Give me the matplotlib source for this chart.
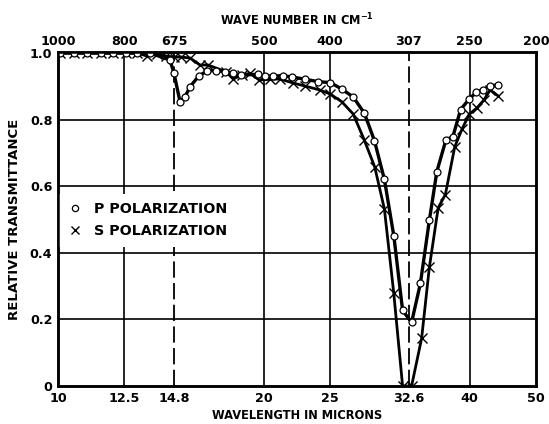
import matplotlib
matplotlib.use("Agg")
import matplotlib.pyplot as plt
from matplotlib.ticker import NullLocator, FixedLocator, FixedFormatter
from matplotlib.lines import Line2D

# wavelength (microns) and relative transmittance
p_wl = [10.07, 10.55, 11.03, 11.56, 12.03, 12.57, 13.05, 13.63, 14.58, 14.78,
        15.08, 15.34, 15.60, 16.07, 16.54, 17.05, 17.57, 18.05, 18.55, 19.58,
        20.07, 20.66, 21.32, 22.01, 23.00, 24.03, 25.03, 25.99, 27.02, 28.06,
        29.02, 30.01, 30.99, 31.91, 32.89, 33.88, 34.92, 35.81, 36.92, 37.80,
        38.79, 39.93, 40.90, 41.89, 42.88, 43.94]
p_tr = [1.0, 1.0, 1.0, 1.0, 1.0, 1.0, 1.0, 1.0, 0.979, 0.939,
        0.854, 0.869, 0.899, 0.931, 0.947, 0.947, 0.944, 0.939, 0.934, 0.936,
        0.931, 0.931, 0.932, 0.928, 0.921, 0.914, 0.911, 0.892, 0.868, 0.819,
        0.737, 0.621, 0.449, 0.227, 0.191, 0.308, 0.498, 0.644, 0.739, 0.749,
        0.830, 0.862, 0.882, 0.890, 0.902, 0.904]

s_wl = [10.07, 10.55, 11.03, 11.56, 12.03, 12.57, 13.05, 13.49, 13.95, 14.38,
        14.78, 15.13, 15.60, 16.13, 16.57, 17.60, 18.04, 18.56, 19.09, 19.69,
        20.42, 21.11, 22.07, 22.96, 24.15, 25.00, 25.99, 27.02, 28.03, 29.05,
        30.01, 30.97, 31.91, 32.89, 34.02, 34.92, 35.97, 36.85, 38.04, 38.99,
        39.93, 40.98, 41.96, 42.84, 44.03]
s_tr = [1.0, 1.0, 1.0, 1.0, 1.0, 1.0, 1.0, 0.991, 0.997, 0.991,
        0.988, 0.988, 0.985, 0.964, 0.964, 0.944, 0.922, 0.934, 0.939, 0.919,
        0.921, 0.922, 0.910, 0.901, 0.889, 0.877, 0.854, 0.817, 0.740, 0.658,
        0.532, 0.280, 0.0, 0.0, 0.143, 0.357, 0.535, 0.575, 0.719, 0.772,
        0.816, 0.835, 0.859, 0.889, 0.871]

wl_ticks = [10, 12.5, 14.8, 20, 25, 32.6, 40, 50]
wl_labels = ["10", "12.5", "14.8", "20", "25", "32.6", "40", "50"]
wn_ticks = [1000, 800, 675, 500, 400, 307, 250, 200]
solid_lines = [12.5, 20, 25, 40]
dashed_lines = [14.8, 32.6]
y_ticks = [0, 0.2, 0.4, 0.6, 0.8, 1.0]
y_labels = ["0", "0.2", "0.4", "0.6", "0.8", "1.0"]

plt.rcParams['font.family'] = ['DejaVu Sans']
fs = 9.2

fig = plt.figure(figsize=(5.49, 4.24), dpi=100)
ax = fig.add_axes([0.1056, 0.0896, 0.8707, 0.7877])

for x in solid_lines:
    ax.axvline(x, color='black', lw=1.2, zorder=1)
for x in dashed_lines:
    ax.axvline(x, color='black', lw=1.3, ls=(0, (9, 3)), zorder=1)
for y in y_ticks[1:-1]:
    ax.axhline(y, color='black', lw=1.2, zorder=1)

ax.plot(s_wl, s_tr, color='black', lw=2.0, marker='x', ms=7, mew=1.0,
        zorder=3)
ax.plot(p_wl, p_tr, color='black', lw=2.4, marker='o', ms=5, mew=0.9,
        mfc='white', mec='black', zorder=4)

ax.set_xscale('log')
ax.set_xlim(10, 50)
ax.set_ylim(0, 1.003)
ax.xaxis.set_major_locator(FixedLocator(wl_ticks))
ax.xaxis.set_major_formatter(FixedFormatter(wl_labels))
ax.xaxis.set_minor_locator(NullLocator())
ax.set_yticks(y_ticks)
ax.set_yticklabels(y_labels)
ax.tick_params(length=0, labelsize=fs, pad=4)
for lab in ax.get_xticklabels() + ax.get_yticklabels():
    lab.set_fontweight('bold')
for sp in ax.spines.values():
    sp.set_linewidth(1.8)

ax2 = ax.twiny()
ax2.set_xscale('log')
ax2.set_xlim(10, 50)
ax2.xaxis.set_major_locator(FixedLocator([1e4 / n for n in wn_ticks]))
ax2.xaxis.set_major_formatter(FixedFormatter([str(n) for n in wn_ticks]))
ax2.xaxis.set_minor_locator(NullLocator())
ax2.tick_params(length=0, labelsize=fs, pad=3)
for lab in ax2.get_xticklabels():
    lab.set_fontweight('bold')
for sp in ax2.spines.values():
    sp.set_linewidth(1.8)

ax.set_xlabel("WAVELENGTH IN MICRONS", fontsize=8.3, fontweight='bold',
              labelpad=3)
ax2.set_xlabel("WAVE NUMBER IN CM$^{\\mathbf{-1}}$", fontsize=8.3,
               fontweight='bold', labelpad=7)
ax.set_ylabel("RELATIVE TRANSMITTANCE", fontsize=9.5, fontweight='bold',
              labelpad=6)

handles = [
    Line2D([], [], ls='none', marker='o', ms=4.5, mfc='white', mec='black',
           mew=0.9),
    Line2D([], [], ls='none', marker='x', ms=5.5, mec='black', mew=1.0),
]
leg = ax.legend(handles, ["P POLARIZATION", "S POLARIZATION"],
                loc='center left', bbox_to_anchor=(-0.012, 0.497),
                frameon=True, facecolor='white', edgecolor='none',
                framealpha=1, fancybox=False, handlelength=1.0,
                handletextpad=0.8, labelspacing=0.55, borderpad=0.6,
                prop={'size': 10.3, 'weight': 'bold'})
leg.set_zorder(10)

fig.savefig("out.png", dpi=100)
